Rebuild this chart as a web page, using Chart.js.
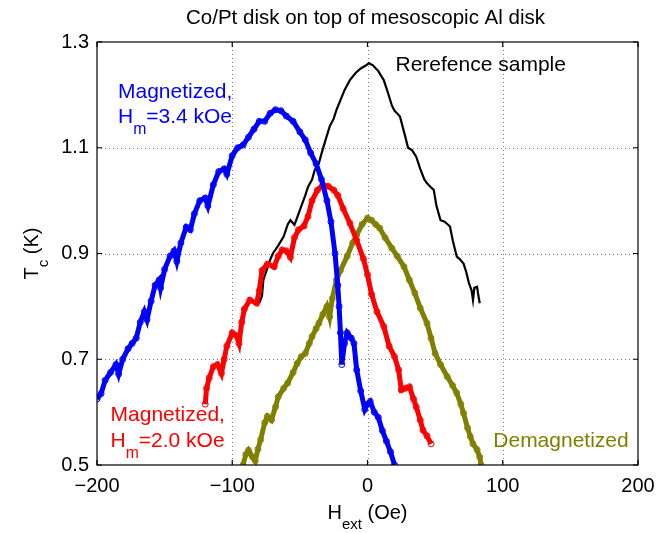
<!DOCTYPE html>
<html>
<head>
<meta charset="utf-8">
<script src="https://cdn.jsdelivr.net/npm/chart.js@4.4.1/dist/chart.umd.min.js"></script>
<style>
  html, body { margin: 0; padding: 0; background: #fff; }
  #wrap { width: 671px; height: 533px; }
</style>
</head>
<body>
<div id="wrap"><canvas id="tcChart" width="671" height="533"></canvas></div>
<script>
// Tc(H) curves for the Co/Pt + Al hybrid disk
const xTickLabels = ['\u2212200', '\u2212100', '0', '100', '200'];
const yTickLabels = ['0.5', '0.7', '0.9', '1.1', '1.3'];

// magnetized, Hm = 3.4 kOe
const mag34H = [-200,-197,-194,-190,-186,-184,-181,-177,-174,-171,-168,-165,-163,-160,-157,-154,-153,-150,-146,-143,-141,-138,-134,-131,-128,-124,-120,-118,-114,-110,-106,-104,-100,-96,-92,-88,-84,-80,-76,-72,-68,-64,-60,-55,-50,-46,-42,-38,-34,-30,-27,-24,-22,-21,-20,-19,-17,-15,-12,-10,-8,-5,-2,0,2,5,8,11,14,17,20];
const mag34T = [0.625,0.635,0.66,0.675,0.69,0.672,0.70,0.72,0.73,0.74,0.77,0.79,0.775,0.81,0.84,0.85,0.835,0.87,0.895,0.905,0.885,0.92,0.95,0.945,0.975,1.0,1.005,0.99,1.03,1.055,1.06,1.05,1.085,1.10,1.105,1.12,1.135,1.15,1.15,1.165,1.172,1.17,1.16,1.15,1.13,1.115,1.09,1.07,1.04,1.0,0.96,0.90,0.84,0.80,0.75,0.69,0.73,0.75,0.74,0.73,0.68,0.64,0.605,0.615,0.62,0.60,0.59,0.565,0.545,0.525,0.50];

// magnetized, Hm = 2.0 kOe
const mag20H = [-120,-119,-117,-114,-111,-108,-106,-104,-100,-97,-95,-93,-91,-87,-82,-80,-78,-74,-69,-66,-63,-60,-57,-54,-51,-47,-44,-41,-37,-33,-29,-25,-22,-18,-13,-8,-3,0,3,7,12,16,20,23,25,28,31,34,36,39,41,44,47];
const mag20T = [0.615,0.645,0.665,0.686,0.69,0.673,0.70,0.725,0.75,0.745,0.73,0.77,0.795,0.812,0.806,0.83,0.868,0.88,0.875,0.895,0.907,0.905,0.893,0.93,0.945,0.952,0.97,1.0,1.02,1.03,1.027,1.02,1.01,0.985,0.957,0.925,0.89,0.86,0.823,0.79,0.762,0.725,0.705,0.68,0.642,0.645,0.648,0.625,0.61,0.585,0.566,0.555,0.54];

// demagnetized
const demagH = [-92,-90,-88,-85,-83,-81,-79,-76,-74,-71,-68,-66,-62,-59,-55,-52,-49,-46,-43,-41,-38,-36,-33,-30,-28,-26,-23,-20,-15,-11,-8,-4,0,3,6,9,13,18,22,27,31,35,39,44,47,50,54,59,63,66,69,71,74,76,78,81,83,84];
const demagT = [0.50,0.52,0.528,0.515,0.508,0.53,0.548,0.58,0.592,0.585,0.61,0.629,0.645,0.655,0.675,0.692,0.705,0.711,0.73,0.743,0.758,0.768,0.785,0.80,0.78,0.815,0.85,0.868,0.895,0.92,0.935,0.955,0.967,0.963,0.955,0.948,0.93,0.91,0.895,0.875,0.85,0.825,0.797,0.768,0.74,0.711,0.69,0.667,0.65,0.636,0.615,0.598,0.57,0.554,0.54,0.529,0.515,0.50];

// reference sample
const refH = [-80,-78,-77,-75,-72,-70,-66,-62,-59,-57,-54,-51,-49,-46,-44,-41,-39,-36,-34,-31,-28,-25,-23,-20,-17,-13,-9,-5,-1,1,4,8,12,15,18,20,22,24,27,30,33,36,39,42,44,47,49,51,54,57,61,63,66,68,71,73,75,77,78,79,81,82,83];
const refT = [0.806,0.82,0.85,0.865,0.888,0.90,0.915,0.932,0.955,0.963,0.954,0.975,0.989,1.01,1.026,1.04,1.058,1.07,1.089,1.115,1.14,1.155,1.171,1.19,1.209,1.228,1.241,1.25,1.256,1.26,1.256,1.245,1.228,1.205,1.18,1.17,1.165,1.159,1.13,1.10,1.095,1.083,1.06,1.04,1.033,1.025,1.02,0.99,0.963,0.96,0.951,0.925,0.894,0.89,0.881,0.865,0.844,0.83,0.812,0.835,0.837,0.82,0.806];

const BLUE = '#0000ff';
const RED = '#ff0000';
const OLIVE = '#808000';
const FONT = 'Liberation Sans, Arial, Helvetica, sans-serif';

function pts(h, t) {
  return h.map((v, i) => ({ x: v, y: t[i] }));
}

function markerSet(label, h, t, color) {
  return {
    label: label,
    data: pts(h, t),
    borderColor: color,
    backgroundColor: 'transparent',
    borderWidth: 5,
    pointRadius: 3,
    pointStyle: 'circle',
    pointBorderColor: color,
    pointBackgroundColor: 'transparent',
    pointBorderWidth: 1,
    showLine: true,
    tension: 0
  };
}

// text with subscripts: parts = [[text, isSub], ...]
function drawRich(ctx, parts, x, y, size, color) {
  ctx.fillStyle = color;
  ctx.textBaseline = 'alphabetic';
  ctx.textAlign = 'left';
  let cx = x;
  parts.forEach(p => {
    const sub = p[1];
    const fs = sub ? size * 0.75 : size;
    ctx.font = fs + 'px ' + FONT;
    ctx.fillText(p[0], cx, sub ? y + size * 0.5 : y);
    cx += ctx.measureText(p[0]).width;
  });
  return cx - x;
}

function richWidth(ctx, parts, size) {
  let w = 0;
  parts.forEach(p => {
    ctx.font = (p[1] ? size * 0.75 : size) + 'px ' + FONT;
    w += ctx.measureText(p[0]).width;
  });
  return w;
}

// dotted grid under the curves
const gridPlugin = {
  id: 'dotGrid',
  beforeDatasetsDraw(chart) {
    const ctx = chart.ctx;
    const a = chart.chartArea;
    const xs = chart.scales.x;
    const ys = chart.scales.y;
    ctx.save();
    ctx.strokeStyle = '#777';
    ctx.lineWidth = 1;
    ctx.setLineDash([1, 3]);
    ctx.beginPath();
    xs.ticks.forEach(tk => {
      if (tk.value <= xs.min || tk.value >= xs.max) return;
      const px = Math.round(xs.getPixelForValue(tk.value)) + 0.5;
      ctx.moveTo(px, a.top); ctx.lineTo(px, a.bottom);
    });
    ys.ticks.forEach(tk => {
      if (tk.value <= ys.min + 1e-9 || tk.value >= ys.max - 1e-9) return;
      const py = Math.round(ys.getPixelForValue(tk.value)) + 0.5;
      ctx.moveTo(a.left, py); ctx.lineTo(a.right, py);
    });
    ctx.stroke();
    ctx.restore();
  }
};

const labelsPlugin = {
  id: 'tcLabels',
  afterDraw(chart) {
    const ctx = chart.ctx;
    const a = chart.chartArea;
    const xs = chart.scales.x;
    const ys = chart.scales.y;
    ctx.save();

    // box and inward ticks
    ctx.strokeStyle = '#000';
    ctx.lineWidth = 1.2;
    ctx.strokeRect(a.left, a.top, a.right - a.left, a.bottom - a.top);
    ctx.beginPath();
    xs.ticks.forEach(tk => {
      const px = xs.getPixelForValue(tk.value);
      ctx.moveTo(px, a.bottom); ctx.lineTo(px, a.bottom - 5);
      ctx.moveTo(px, a.top); ctx.lineTo(px, a.top + 5);
    });
    ys.ticks.forEach(tk => {
      const py = ys.getPixelForValue(tk.value);
      ctx.moveTo(a.left, py); ctx.lineTo(a.left + 5, py);
      ctx.moveTo(a.right, py); ctx.lineTo(a.right - 5, py);
    });
    ctx.stroke();

    // title
    ctx.fillStyle = '#000';
    ctx.font = '20.5px ' + FONT;
    ctx.textAlign = 'center';
    ctx.textBaseline = 'alphabetic';
    ctx.fillText('Co/Pt disk on top of mesoscopic Al disk', (a.left + a.right) / 2 - 2, 24);

    // axis titles
    const xt = [['H', false], ['ext', true], [' (Oe)', false]];
    const xw = richWidth(ctx, xt, 20);
    drawRich(ctx, xt, (a.left + a.right) / 2 - xw / 2, 519, 20, '#000');

    ctx.save();
    ctx.translate(38, (a.top + a.bottom) / 2);
    ctx.rotate(-Math.PI / 2);
    const yt = [['T', false], ['c', true], [' (K)', false]];
    const yw = richWidth(ctx, yt, 20);
    drawRich(ctx, yt, -yw / 2, 0, 20, '#000');
    ctx.restore();

    // curve labels
    const fs = 21;
    const L = (h, t) => [xs.getPixelForValue(h), ys.getPixelForValue(t)];
    let p = L(-184.5, 1.194);
    drawRich(ctx, [['Magnetized,', false]], p[0], p[1], fs, BLUE);
    p = L(-184.5, 1.146);
    drawRich(ctx, [['H', false], ['m', true], ['=3.4 kOe', false]], p[0], p[1], fs, BLUE);

    p = L(20.7, 1.245);
    drawRich(ctx, [['Rerefence sample', false]], p[0], p[1], fs, '#000');

    p = L(-190, 0.584);
    drawRich(ctx, [['Magnetized,', false]], p[0], p[1], fs, RED);
    p = L(-190, 0.534);
    drawRich(ctx, [['H', false], ['m', true], ['=2.0 kOe', false]], p[0], p[1], fs, RED);

    p = L(93, 0.534);
    drawRich(ctx, [['Demagnetized', false]], p[0], p[1], fs, OLIVE);

    ctx.restore();
  }
};

new Chart(document.getElementById('tcChart'), {
  type: 'scatter',
  data: {
    datasets: [
      markerSet('Magnetized, Hm=3.4 kOe', mag34H, mag34T, BLUE),
      markerSet('Magnetized, Hm=2.0 kOe', mag20H, mag20T, RED),
      markerSet('Demagnetized', demagH, demagT, OLIVE),
      {
        label: 'Rerefence sample',
        data: pts(refH, refT),
        borderColor: '#000',
        backgroundColor: 'transparent',
        borderWidth: 2.2,
        pointRadius: 0,
        showLine: true,
        tension: 0
      }
    ]
  },
  options: {
    responsive: false,
    animation: false,
    layout: { padding: { left: 0, right: 33, top: 42, bottom: 0 } },
    plugins: {
      legend: { display: false },
      tooltip: { enabled: false },
      title: { display: false }
    },
    scales: {
      x: {
        type: 'linear',
        min: -200,
        max: 200,
        afterFit: s => { s.height = 68; },
        ticks: {
          stepSize: 100,
          padding: 9,
          color: '#000',
          font: { family: FONT, size: 20 },
          callback: (v, i) => xTickLabels[i]
        },
        grid: { display: false, drawTicks: false },
        border: { display: false }
      },
      y: {
        type: 'linear',
        min: 0.5,
        max: 1.3,
        afterFit: s => { s.width = 97; },
        ticks: {
          stepSize: 0.2,
          padding: 8,
          color: '#000',
          font: { family: FONT, size: 20 },
          callback: (v, i) => yTickLabels[i]
        },
        grid: { display: false, drawTicks: false },
        border: { display: false }
      }
    }
  },
  plugins: [gridPlugin, labelsPlugin]
});
</script>
</body>
</html>
